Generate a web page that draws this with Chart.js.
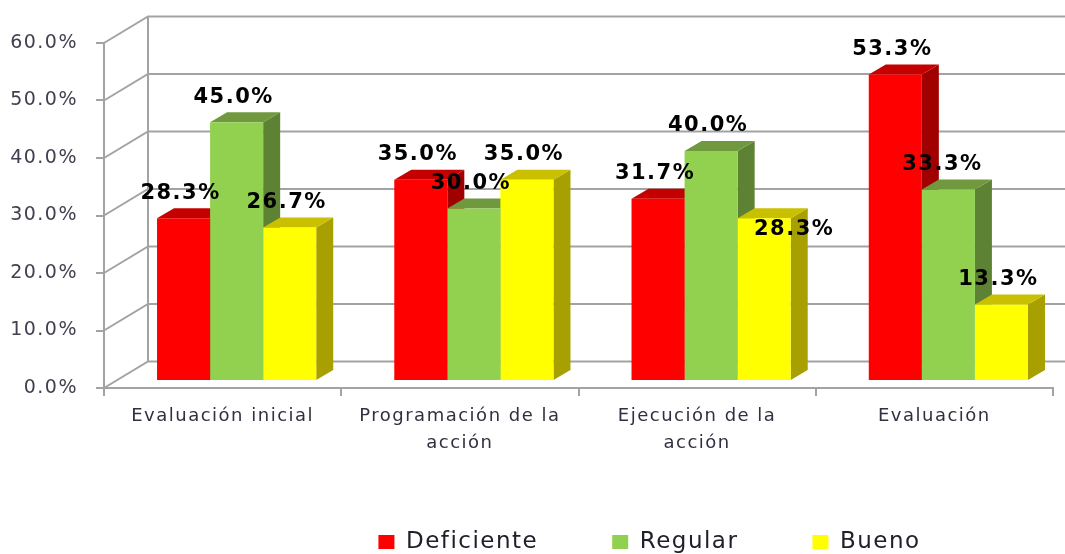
<!DOCTYPE html>
<html>
<head>
<meta charset="utf-8">
<style>html,body{margin:0;padding:0;background:#fff}canvas{display:block}</style>
<script src="https://cdn.jsdelivr.net/npm/chart.js@4/dist/chart.umd.min.js"></script>
</head>
<body>
<canvas id="c" width="1065" height="554"></canvas>
<script>
const categories = ["Evaluación inicial", ["Programación de la", "acción"], ["Ejecución de la", "acción"], "Evaluación"];
const deficiente = [28.3, 35.0, 31.7, 53.3];
const regular = [45.0, 30.0, 40.0, 33.3];
const bueno = [26.7, 35.0, 28.3, 13.3];

const frontColors = ["#ff0000", "#92d050", "#ffff00"];
const topColors = ["#c40000", "#70993f", "#c8c000"];
const sideColors = ["#a00000", "#5e8233", "#a8a000"];
const SHIFT = {x: 14, y: -7};
const DEPTH = {x: 17, y: 10};
const WALL = {x: 44, y: 26.5};
const GRID = "#a3a3a3";
const labelNudges = {"2-2": {x: 33, y: 36}, "1-3": {x: -3, y: 0}};

const spacing = ctx => { ctx.letterSpacing = "1.5px"; };

const bars3d = {
  id: "bars3d",
  beforeUpdate(chart) { spacing(chart.ctx); },
  beforeLayout(chart) { spacing(chart.ctx); },
  afterLayout(chart) {
    const lg = chart.legend;
    const h = lg.height;
    lg.top = 544 - 13.5 - lg.options.labels.padding;
    lg.bottom = lg.top + h;
    lg.left += 123;
    lg.right += 123;
  },
  beforeDraw(chart) { spacing(chart.ctx); },
  beforeDatasetsDraw(chart) {
    const {ctx, scales: {y}, chartArea: a} = chart;
    ctx.save();
    ctx.strokeStyle = GRID;
    ctx.lineWidth = 2;
    y.ticks.forEach(t => {
      const p = y.getPixelForValue(t.value);
      ctx.beginPath();
      ctx.moveTo(a.left, p);
      ctx.lineTo(a.left + WALL.x, p - WALL.y);
      ctx.lineTo(chart.width, p - WALL.y);
      ctx.stroke();
    });
    ctx.beginPath();
    ctx.moveTo(a.left + WALL.x, a.top - WALL.y);
    ctx.lineTo(a.left + WALL.x, a.bottom - WALL.y);
    ctx.stroke();
    ctx.restore();

    ctx.save();
    ctx.translate(SHIFT.x, SHIFT.y);
    chart.data.datasets.forEach((ds, i) => {
      chart.getDatasetMeta(i).data.forEach(el => {
        const p = el.getProps(["x", "y", "base", "width"], true);
        const l = p.x - p.width / 2, r = p.x + p.width / 2;
        ctx.fillStyle = sideColors[i];
        ctx.beginPath();
        ctx.moveTo(r, p.y);
        ctx.lineTo(r + DEPTH.x, p.y - DEPTH.y);
        ctx.lineTo(r + DEPTH.x, p.base - DEPTH.y);
        ctx.lineTo(r, p.base);
        ctx.closePath();
        ctx.fill();
        ctx.fillStyle = topColors[i];
        ctx.beginPath();
        ctx.moveTo(l, p.y);
        ctx.lineTo(l + DEPTH.x, p.y - DEPTH.y);
        ctx.lineTo(r + DEPTH.x, p.y - DEPTH.y);
        ctx.lineTo(r, p.y);
        ctx.closePath();
        ctx.fill();
      });
    });
    ctx.restore();
  },
  beforeDatasetDraw(chart) {
    chart.ctx.save();
    chart.ctx.translate(SHIFT.x, SHIFT.y);
  },
  afterDatasetDraw(chart) { chart.ctx.restore(); },
  afterDatasetsDraw(chart) {
    const {ctx} = chart;
    ctx.save();
    ctx.font = "bold 21px 'DejaVu Sans'";
    ctx.fillStyle = "#000";
    ctx.textAlign = "center";
    ctx.textBaseline = "middle";
    ctx.letterSpacing = "1.5px";
    chart.data.datasets.forEach((ds, i) => {
      chart.getDatasetMeta(i).data.forEach((el, j) => {
        const n = labelNudges[i + "-" + j] || {x: 0, y: 0};
        ctx.fillText(ds.data[j].toFixed(1) + "%", el.x + SHIFT.x - 3 + n.x, el.y + SHIFT.y - 25 + n.y);
      });
    });
    ctx.restore();
  }
};

new Chart(document.getElementById("c"), {
  type: "bar",
  plugins: [bars3d],
  data: {
    labels: categories,
    datasets: [
      {label: "Deficiente", data: deficiente, backgroundColor: frontColors[0]},
      {label: "Regular", data: regular, backgroundColor: frontColors[1]},
      {label: "Bueno", data: bueno, backgroundColor: frontColors[2]}
    ]
  },
  options: {
    responsive: false,
    animation: false,
    layout: {padding: {left: 0, right: 12, top: 43, bottom: -109}},
    datasets: {bar: {categoryPercentage: 0.671, barPercentage: 1, clip: false, borderWidth: 0}},
    plugins: {
      tooltip: {enabled: false},
      legend: {
        position: "bottom",
        labels: {
          boxWidth: 16, boxHeight: 14, padding: 74, color: "#20202c",
          font: {family: "'DejaVu Sans'", size: 23}
        }
      }
    },
    scales: {
      x: {
        afterFit(s) { s.height = 168; },
        grid: {display: true, drawOnChartArea: false, tickLength: 8, color: GRID, lineWidth: 2},
        border: {color: GRID, width: 2},
        ticks: {
          color: "#303040", maxRotation: 0, minRotation: 0, autoSkip: false, padding: 7,
          font: {family: "'DejaVu Sans'", size: 18, lineHeight: 1.5}
        }
      },
      y: {
        min: 0, max: 60,
        afterFit(s) { s.width = 104; },
        grid: {display: true, drawOnChartArea: false, tickLength: 8, color: GRID, lineWidth: 2},
        border: {color: GRID, width: 2},
        ticks: {
          stepSize: 10, color: "#404050", padding: 18,
          font: {family: "'DejaVu Sans'", size: 19},
          callback: v => v.toFixed(1) + "%"
        }
      }
    }
  }
});
</script>
</body>
</html>
